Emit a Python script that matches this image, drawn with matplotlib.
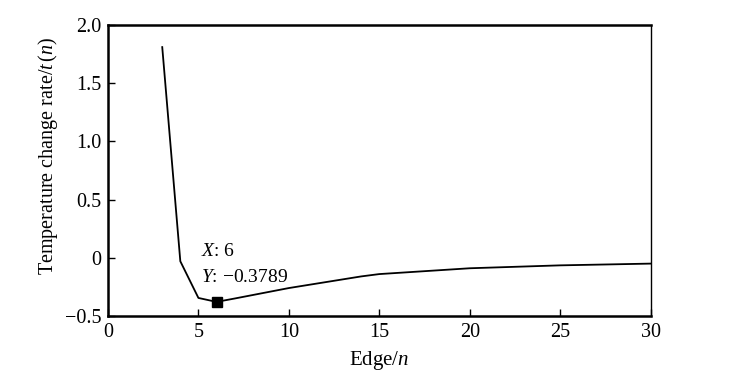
import matplotlib.pyplot as plt
from matplotlib.ticker import FuncFormatter

plt.rcParams['font.family'] = ['Liberation Serif', 'DejaVu Serif']
plt.rcParams['mathtext.fontset'] = 'custom'
plt.rcParams['mathtext.rm'] = 'Liberation Serif'
plt.rcParams['mathtext.it'] = 'Liberation Serif:italic'

# edge count n and temperature change rate t(n)
edges = [3, 4, 5, 6, 7, 8, 9, 10, 11, 12, 13, 14, 15, 16,
         17, 18, 19, 20, 21, 22, 23, 24, 25, 26, 27, 28, 29, 30]
rates = [1.81, -0.03, -0.345, -0.3789, -0.35, -0.32, -0.29, -0.26,
         -0.235, -0.21, -0.185, -0.16, -0.14, -0.13, -0.12, -0.11,
         -0.10, -0.09, -0.085, -0.08, -0.075, -0.07, -0.065, -0.062,
         -0.059, -0.056, -0.053, -0.05]
x_ticks = [0, 5, 10, 15, 20, 25, 30]
y_ticks = [-0.5, 0, 0.5, 1.0, 1.5, 2.0]
marked = 3  # index of the highlighted point (n = 6)

fig = plt.figure(figsize=(7.36, 3.88), dpi=100)
ax = fig.add_axes([0.1467, 0.1856, 0.7373, 0.75])

ax.plot(edges, rates, color='black', lw=1.3)
ax.plot(edges[marked], rates[marked], marker='s', ms=7, color='black',
        ls='none')
ax.text(5.15, 0.05, '$\\mathit{X}$: %d' % edges[marked], fontsize=14,
        va='center')
ax.text(5.15, -0.172, '$\\mathit{Y}$: \u2212%.4f' % -rates[marked],
        fontsize=14, va='center')

ax.set_xlim(0, 30)
ax.set_ylim(-0.5, 2.0)
ax.set_xticks(x_ticks)
ax.set_yticks(y_ticks)


def fmt_y(v, pos):
    if abs(v) < 1e-9:
        return '0'
    s = '%.1f' % v
    return s.replace('-', '\u2212')


ax.yaxis.set_major_formatter(FuncFormatter(fmt_y))
ax.tick_params(direction='in', length=5, width=1, labelsize=14.5,
               top=False, right=False, pad=5)
for side in ['left', 'bottom', 'top']:
    ax.spines[side].set_linewidth(1.8)
ax.spines['right'].set_linewidth(1.0)

ax.set_xlabel('Edge/$\\mathit{n}$', fontsize=15, labelpad=5)
ax.set_ylabel('Temperature change rate/$\\mathit{t}\\,$($\\mathit{n}$)',
              fontsize=14.5)
ax.yaxis.set_label_coords(-0.088, 0.55)

fig.savefig('out.png', dpi=100)
